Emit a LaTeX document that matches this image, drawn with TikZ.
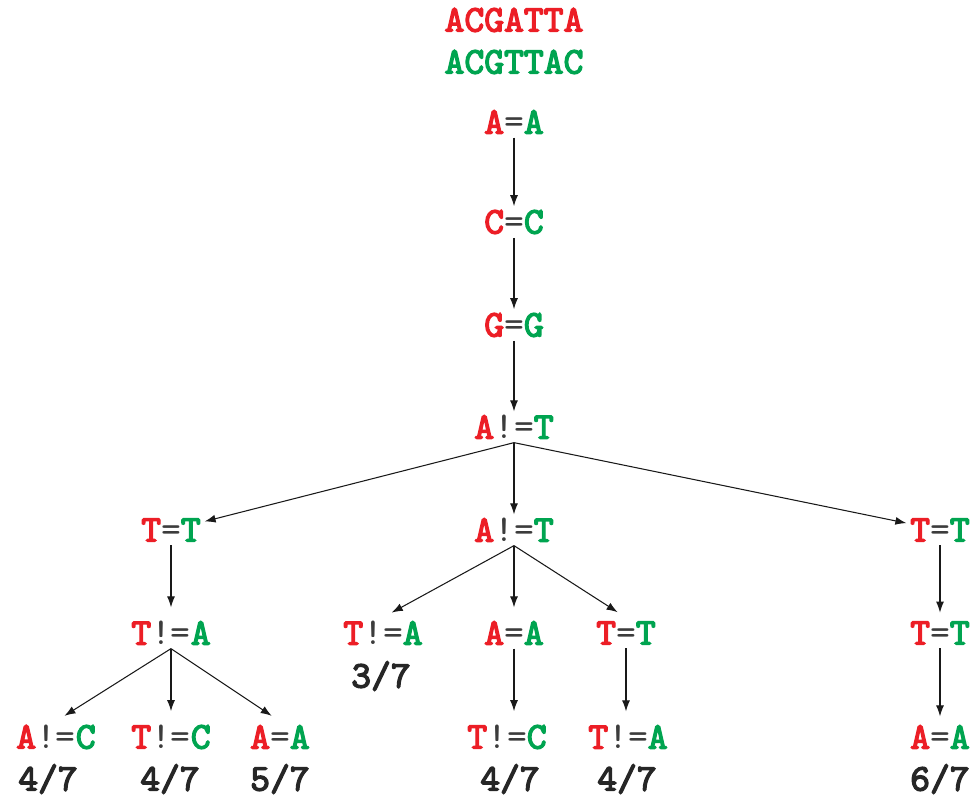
\documentclass[tikz,border=0pt]{standalone}
\usepackage{fontspec}
\setmonofont{lmmono10-regular}[Extension=.otf, BoldFont=lmmono10-regular, BoldFeatures={FakeBold=3.5}]
\usetikzlibrary{arrows.meta}
\definecolor{seqred}{RGB}{236,30,38}
\definecolor{seqgreen}{RGB}{0,164,80}
\definecolor{opgray}{RGB}{60,60,60}
\newcommand{\eqpair}[2]{\textcolor{seqred}{\bfseries #1}\textcolor{opgray}{=}\textcolor{seqgreen}{\bfseries #2}}
\newcommand{\nepair}[2]{\textcolor{seqred}{\bfseries #1}\textcolor{opgray}{!=}\textcolor{seqgreen}{\bfseries #2}}
\tikzset{
  cmp/.style={font=\ttfamily\fontsize{21.5}{24}\selectfont, inner sep=2pt},
  seq/.style={cmp, font=\ttfamily\bfseries\fontsize{21.5}{24}\selectfont},
  score/.style={seq, text=black!85},
  arr/.style={-{Latex[length=2.2mm,width=1.6mm]}, line width=0.6pt, black!90},
  sarr/.style={arr, shorten >=0.2cm}
}
\begin{document}
\begin{tikzpicture}[x=0.02cm, y=-0.02cm]
  \useasboundingbox (0,0) rectangle (975,798);
  % the two sequences
  \node[seq, text=seqred] (seqa) at (514,20) {ACGATTA};
  \node[seq, text=seqgreen] (seqb) at (514,62) {ACGTTAC};
  % main chain
  \node[cmp] (n1) at (514,122) {\eqpair{A}{A}};
  \node[cmp] (n2) at (514,222) {\eqpair{C}{C}};
  \node[cmp] (n3) at (514,325) {\eqpair{G}{G}};
  \node[cmp] (n4) at (514,427) {\nepair{A}{T}};
  % level 5
  \node[cmp] (l1) at (171,530) {\eqpair{T}{T}};
  \node[cmp] (m1) at (514,530) {\nepair{A}{T}};
  \node[cmp] (r1) at (940,530) {\eqpair{T}{T}};
  % level 6
  \node[cmp] (l2) at (171,633) {\nepair{T}{A}};
  \node[cmp] (ma) at (383,633) {\nepair{T}{A}};
  \node[cmp] (mb) at (514,633) {\eqpair{A}{A}};
  \node[cmp] (mc) at (626,633) {\eqpair{T}{T}};
  \node[cmp] (r2) at (940,633) {\eqpair{T}{T}};
  % level 7
  \node[cmp] (la) at (56,737) {\nepair{A}{C}};
  \node[cmp] (lb) at (171,737) {\nepair{T}{C}};
  \node[cmp] (lc) at (280,737) {\eqpair{A}{A}};
  \node[cmp] (mb2) at (507,737) {\nepair{T}{C}};
  \node[cmp] (mc2) at (628,737) {\nepair{T}{A}};
  \node[cmp] (r3) at (940,737) {\eqpair{A}{A}};
  % scores
  \node[score] (sma) at (381,676) {3/7};
  \node[score] (sla) at (48,779) {4/7};
  \node[score] (slb) at (170,779) {4/7};
  \node[score] (slc) at (280,779) {5/7};
  \node[score] (smb) at (510,779) {4/7};
  \node[score] (smc) at (627,779) {4/7};
  \node[score] (sr) at (940,779) {6/7};
  % edges
  \draw[arr] (n1.south) -- (n2);
  \draw[arr] (n2.south) -- (n3);
  \draw[arr] (n3.south) -- (n4);
  \draw[arr] (n4.south) -- (l1);
  \draw[arr] (n4.south) -- (m1);
  \draw[arr] (n4.south) -- (r1);
  \draw[sarr] (l1.south) -- (l2.north);
  \draw[sarr] (m1.south) -- (ma.north);
  \draw[sarr] (m1.south) -- (mb.north);
  \draw[sarr] (m1.south) -- (mc.north);
  \draw[arr, shorten >=0.1cm] (r1.south) -- (r2.north);
  \draw[sarr] (l2.south) -- (la.north);
  \draw[sarr] (l2.south) -- (lb.north);
  \draw[sarr] (l2.south) -- (lc.north);
  \draw[sarr] (mb.south) -- (mb.south |- mb2.north);
  \draw[sarr] (mc.south) -- (mc.south |- mc2.north);
  \draw[arr, shorten >=0.1cm] (r2.south) -- (r3.north);
\end{tikzpicture}
\end{document}
